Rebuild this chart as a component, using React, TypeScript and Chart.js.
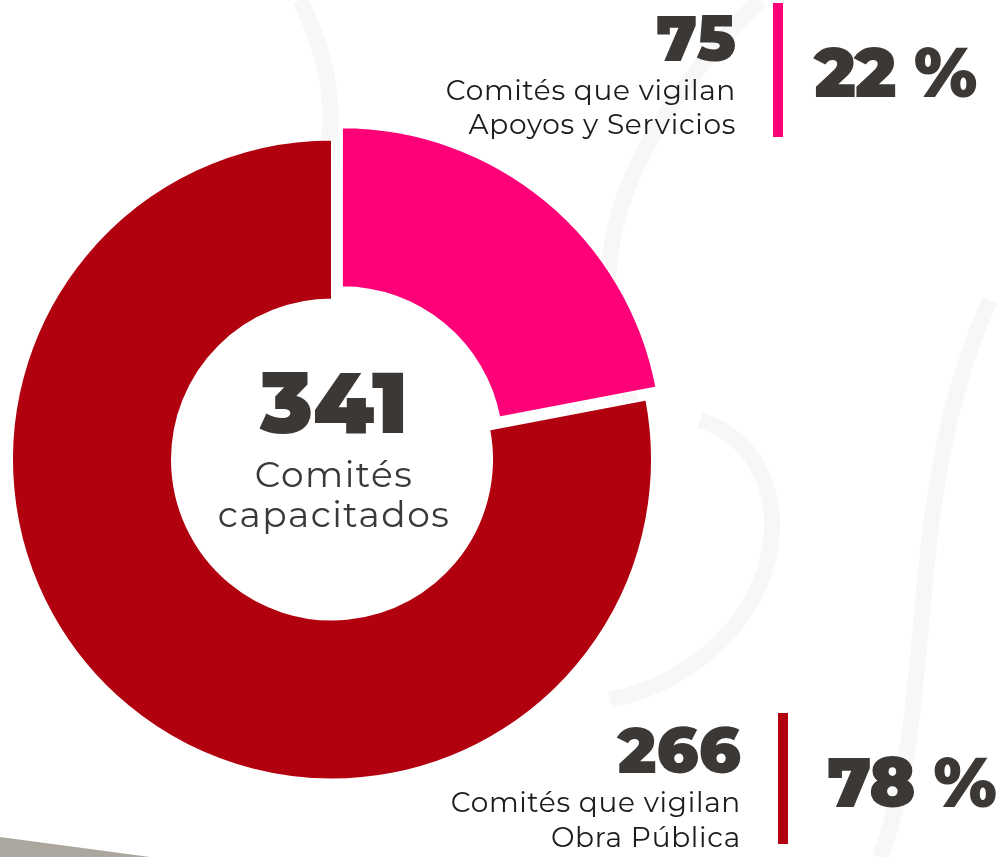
import React, { useEffect, useRef } from "react";
import { Chart, registerables } from "chart.js";

Chart.register(...registerables);

const categories = ["Comités que vigilan Apoyos y Servicios", "Comités que vigilan Obra Pública"];
const committeeCounts = [75, 266];
const percentLabels = ["22 %", "78 %"];
const totalLabel = "341";
const sliceColors = ["#FE0077", "#B1000E"];
const sliceOffsets = [62, 0];

export default function App() {
  const ref = useRef<HTMLCanvasElement | null>(null);

  useEffect(() => {
    document.body.style.margin = "0";
    const canvas = ref.current;
    if (!canvas) return;
    const chart = new Chart(canvas, {
      type: "doughnut",
      data: {
        labels: categories,
        datasets: [
          {
            data: committeeCounts,
            backgroundColor: sliceColors,
            borderColor: "#ffffff",
            borderWidth: 2,
            offset: sliceOffsets,
            hoverOffset: 0,
          },
        ],
      },
      options: {
        responsive: false,
        animation: false,
        radius: 320,
        cutout: "50%",
        rotation: 0,
        layout: { padding: { left: 0, right: 334, top: 62, bottom: 0 } },
        plugins: {
          legend: { display: false },
          tooltip: { enabled: false },
        },
      },
    });
    return () => chart.destroy();
  }, []);

  const dark = "#3B3835";
  const heavy = "'Montserrat', 'Inter', 'Lato', sans-serif";
  const light = "'Montserrat', 'Open Sans', 'Noto Sans', sans-serif";

  return (
    <div style={{ position: "absolute", left: 0, top: 0, width: 998, height: 857, overflow: "hidden", background: "#ffffff" }}>
      <svg width={998} height={857} style={{ position: "absolute", left: 0, top: 0 }}>
        <g fill="none" stroke="#f7f7f7" strokeWidth={16}>
          <path d="M760 0 C 640 120, 560 260, 640 420" />
          <path d="M700 420 C 820 460, 790 660, 610 700" />
          <path d="M990 300 C 900 500, 940 700, 880 857" />
          <path d="M300 0 C 330 60, 340 120, 320 180" />
        </g>
        <polygon points="0,837 0,857 150,857" fill="#ABA79E" />
      </svg>
      <canvas ref={ref} width={998} height={857} style={{ position: "absolute", left: 0, top: 0 }} />

      <div style={{ position: "absolute", right: 998 - 736, top: 0, textAlign: "right", color: dark }}>
        <div style={{ fontFamily: heavy, fontWeight: 900, fontSize: 64, lineHeight: "76px" }}>{committeeCounts[0]}</div>
        <div style={{ fontFamily: light, fontWeight: 400, fontSize: 28, lineHeight: "34px", letterSpacing: 0.7, marginTop: -3, color: "#1c1c1c", whiteSpace: "nowrap" }}>
          Comités que vigilan
          <br />
          Apoyos y Servicios
        </div>
      </div>
      <div style={{ position: "absolute", left: 773, top: 3, width: 10, height: 134, background: sliceColors[0] }} />
      <div style={{ position: "absolute", left: 814, top: 30, color: dark, fontFamily: heavy, fontWeight: 900, fontSize: 69, lineHeight: "84px", letterSpacing: -1.5, whiteSpace: "nowrap" }}>
        {percentLabels[0]}
      </div>

      <div style={{ position: "absolute", right: 998 - 741, top: 712, textAlign: "right", color: dark }}>
        <div style={{ fontFamily: heavy, fontWeight: 900, fontSize: 64, lineHeight: "76px" }}>{committeeCounts[1]}</div>
        <div style={{ fontFamily: light, fontWeight: 400, fontSize: 28, lineHeight: "35px", letterSpacing: 0.7, marginTop: -3, color: "#1c1c1c", whiteSpace: "nowrap" }}>
          Comités que vigilan
          <br />
          Obra Pública
        </div>
      </div>
      <div style={{ position: "absolute", left: 778, top: 713, width: 10, height: 131, background: sliceColors[1] }} />
      <div style={{ position: "absolute", left: 827, top: 740, color: dark, fontFamily: heavy, fontWeight: 900, fontSize: 69, lineHeight: "84px", letterSpacing: -1.5, whiteSpace: "nowrap" }}>
        {percentLabels[1]}
      </div>

      <div style={{ position: "absolute", left: 334 - 150, width: 300, top: 354, textAlign: "center", color: dark }}>
        <div style={{ fontFamily: heavy, fontWeight: 900, fontSize: 86, lineHeight: "98px" }}>{totalLabel}</div>
        <div style={{ fontFamily: light, fontWeight: 400, fontSize: 36, lineHeight: "40px", letterSpacing: 1.5, marginTop: 2, whiteSpace: "nowrap" }}>
          Comités
          <br />
          capacitados
        </div>
      </div>
    </div>
  );
}
